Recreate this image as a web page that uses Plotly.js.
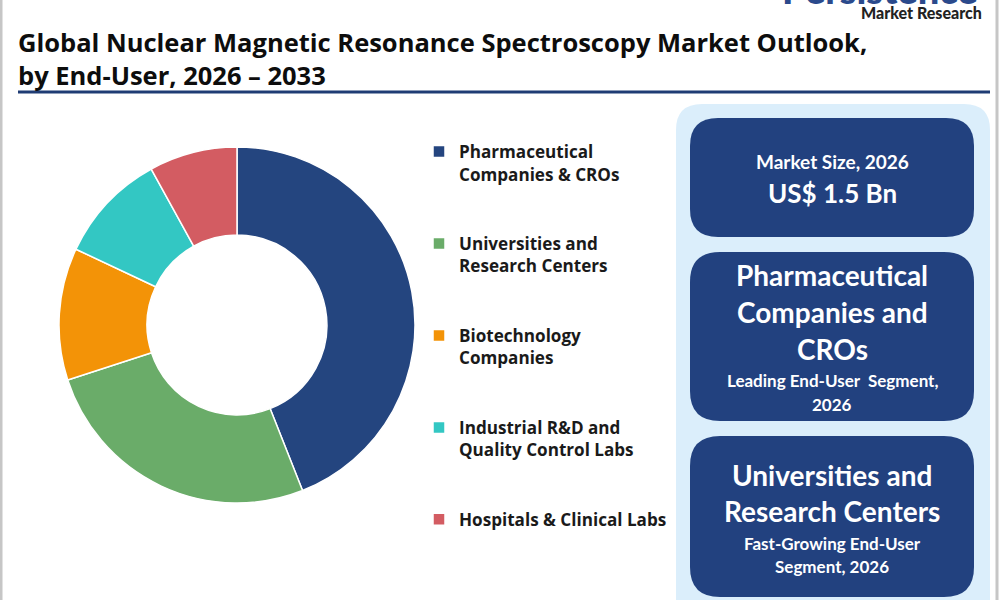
<!DOCTYPE html>
<html>
<head>
<meta charset="utf-8">
<script src="https://cdn.plot.ly/plotly-3.0.1.min.js"></script>
<style>html,body{margin:0;padding:0;background:#fff;}#chart{width:1000px;height:600px;}</style>
</head>
<body>
<div id="chart"></div>
<script>
// ---- Data ----
const endUsers = [
  "Pharmaceutical<br>Companies & CROs",
  "Universities and<br>Research Centers",
  "Biotechnology<br>Companies",
  "Industrial R&D and<br>Quality Control Labs",
  "Hospitals & Clinical Labs"
];
const shares = [44, 26, 12, 10, 8];
const sliceColors = ["#24457f", "#6aac69", "#f39307", "#33c7c3", "#d35c62"];

const titleLines = [
  "Global Nuclear Magnetic Resonance Spectroscopy Market Outlook,",
  "by End-User, 2026 \u2013 2033"
];
const marketSizeLabel = "Market Size, 2026";
const marketSizeValue = "US$ 1.5 Bn";
const leadingSegment = ["Pharmaceutical", "Companies and", "CROs"];
const leadingNote = ["Leading End-User  Segment,", "2026"];
const fastSegment = ["Universities and", "Research Centers"];
const fastNote = ["Fast-Growing End-User", "Segment, 2026"];

// ---- Helpers ----
const FONT = "Lato, 'Open Sans', sans-serif";
const OPEN = "'Open Sans', sans-serif";
const pad = "<br>\u00a0<br>\u00a0";
function roundRect(x0, y0, x1, y1, r) {
  return `M${x0 + r},${y0} L${x1 - r},${y0} Q${x1},${y0} ${x1},${y0 + r} ` +
         `L${x1},${y1 - r} Q${x1},${y1} ${x1 - r},${y1} L${x0 + r},${y1} ` +
         `Q${x0},${y1} ${x0},${y1 - r} L${x0},${y0 + r} Q${x0},${y0} ${x0 + r},${y0} Z`;
}
function txt(text, x, y, size, color, anchor, family, weight) {
  return {
    text: text, x: x, y: y, xref: "x", yref: "y", showarrow: false,
    xanchor: anchor || "center", yanchor: "middle", align: anchor || "center",
    font: {family: family || FONT, size: size, color: color, weight: weight || "bold"}
  };
}

const W = "#ffffff";
const annotations = [
  txt(titleLines.join("<br>"), 16, 58, 25.5, "#0d0d0d", "left", OPEN),
  txt(marketSizeLabel, 832, 161, 19, W),
  txt(marketSizeValue, 832, 193, 26, W),
  txt(leadingSegment[0], 832, 275, 28, W),
  txt(leadingSegment[1], 832, 312, 28, W),
  txt(leadingSegment[2], 832, 349, 28, W),
  txt(leadingNote[0], 832, 380, 17, W),
  txt(leadingNote[1], 832, 404, 17, W),
  txt(fastSegment[0], 832, 475, 28, W),
  txt(fastSegment[1], 832, 511, 28, W),
  txt(fastNote[0], 832, 543, 17, W),
  txt(fastNote[1], 832, 566, 17, W),
  txt("Market Research", 984, 12, 16, "#222222", "right", FONT, 900),
  Object.assign(txt("Persistence", 980, 14, 38, "#2b4a8c", "right", FONT, 900), {yanchor: "bottom"})
];

const shapes = [
  {type: "line", xref: "x", yref: "y", x0: 1, x1: 1, y0: 0, y1: 600, line: {color: "#c6c6c6", width: 3}},
  {type: "line", xref: "x", yref: "y", x0: 997, x1: 997, y0: 0, y1: 600, line: {color: "#c6c6c6", width: 3}},
  {type: "line", xref: "x", yref: "y", x0: 18, x1: 990, y0: 92, y1: 92, line: {color: "#1f3c74", width: 3}},
  {type: "path", xref: "x", yref: "y", path: roundRect(676, 104, 990, 630, 26), fillcolor: "#dbeefb", line: {width: 0}, layer: "below"},
  {type: "path", xref: "x", yref: "y", path: roundRect(690, 118, 974, 237, 28), fillcolor: "#22417f", line: {width: 0}, layer: "below"},
  {type: "path", xref: "x", yref: "y", path: roundRect(690, 252, 974, 421, 30), fillcolor: "#22417f", line: {width: 0}, layer: "below"},
  {type: "path", xref: "x", yref: "y", path: roundRect(690, 436, 974, 597, 30), fillcolor: "#22417f", line: {width: 0}, layer: "below"}
];

const cx = 237, cy = 325, R = 178;
const data = [
  {type: "scatter", x: [], y: [], showlegend: false, hoverinfo: "skip"},
  {
    type: "pie",
    labels: endUsers.map((l, i) => i < endUsers.length - 1 ? l + pad : l),
    values: shares,
    sort: false,
    direction: "clockwise",
    rotation: 0,
    hole: 0.505,
    textinfo: "none",
    hoverinfo: "label+percent",
    marker: {colors: sliceColors, line: {color: "#ffffff", width: 1.5}},
    domain: {x: [(cx - R) / 1000, (cx + R) / 1000], y: [(600 - cy - R) / 600, (600 - cy + R) / 600]}
  }
];

const layout = {
  width: 1000, height: 600,
  margin: {l: 0, r: 0, t: 0, b: 0},
  paper_bgcolor: "#ffffff", plot_bgcolor: "rgba(0,0,0,0)",
  xaxis: {range: [0, 1000], visible: false, fixedrange: true, domain: [0, 1]},
  yaxis: {range: [600, 0], visible: false, fixedrange: true, domain: [0, 1]},
  showlegend: true,
  legend: {
    x: 0.419, y: 1 - 134 / 600, xanchor: "left", yanchor: "top",
    font: {family: OPEN, size: 17.1, color: "#1a1a1a", weight: "bold"},
    valign: "top", bgcolor: "rgba(0,0,0,0)", traceorder: "normal"
  },
  shapes: shapes,
  annotations: annotations
};

Plotly.newPlot("chart", data, layout, {displayModeBar: false, staticPlot: true});
</script>
</body>
</html>
